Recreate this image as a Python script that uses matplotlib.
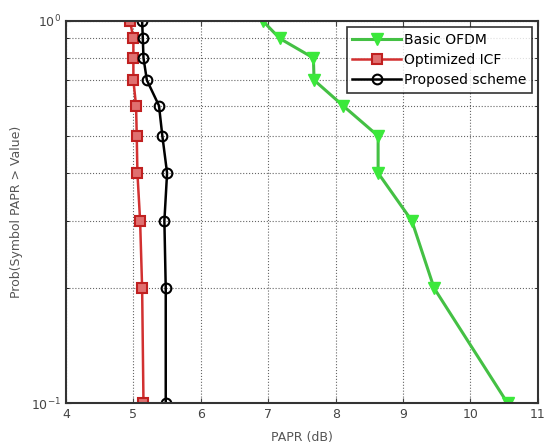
import matplotlib
matplotlib.use("Agg")
import matplotlib.pyplot as plt
from matplotlib.ticker import LogLocator, NullFormatter, FixedLocator

prob = [1.0, 0.9, 0.8, 0.7, 0.6, 0.5, 0.4, 0.3, 0.2, 0.1]
basic_ofdm = [6.92, 7.17, 7.67, 7.68, 8.11, 8.63, 8.63, 9.13, 9.46, 10.55]
optimized_icf = [4.95, 5.0, 5.0, 5.0, 5.04, 5.05, 5.06, 5.1, 5.13, 5.15]
proposed = [5.13, 5.14, 5.15, 5.2, 5.38, 5.43, 5.5, 5.46, 5.48, 5.48]
labels = ["Basic OFDM", "Optimized ICF", "Proposed scheme"]
xticks = [4, 5, 6, 7, 8, 9, 10, 11]

fig = plt.figure(figsize=(5.45, 4.45), dpi=100)
ax = fig.add_axes([0.121, 0.094, 0.866, 0.859])

ax.plot(basic_ofdm, prob, color="#44c044", lw=2.2, marker="v", ms=8,
        mfc="#3be83b", mec="#3be83b", label=labels[0])
ax.plot(optimized_icf, prob, color="#d23030", lw=1.8, marker="s", ms=7,
        mfc="#e07070", mec="#c02020", mew=1.5, label=labels[1])
ax.plot(proposed, prob, color="black", lw=1.8, marker="o", ms=7,
        mfc="none", mec="black", mew=1.5, label=labels[2])

ax.set_yscale("log")
ax.set_ylim(0.1, 1.0)
ax.set_xlim(4, 11)
ax.set_xticks(xticks)
ax.set_xticklabels([str(t) for t in xticks])
ax.yaxis.set_major_locator(FixedLocator([0.1, 1.0]))
ax.set_yticklabels([r"$10^{-1}$", r"$10^{0}$"])
ax.yaxis.set_minor_locator(LogLocator(base=10, subs=range(2, 10)))
ax.yaxis.set_minor_formatter(NullFormatter())

ax.grid(True, which="major", linestyle=":", color="#666666", lw=0.8)
ax.grid(True, which="minor", axis="y", linestyle=":", color="#666666", lw=0.8)
ax.tick_params(direction="in", labelsize=9, colors="#444444", top=True, right=True)
ax.tick_params(which="minor", direction="in", top=True, right=True)
for s in ax.spines.values():
    s.set_linewidth(1.5)
    s.set_color("#333333")

ax.set_xlabel("PAPR (dB)", fontsize=9, color="#555555", labelpad=7)
ax.set_ylabel("Prob(Symbol PAPR > Value)", fontsize=9, color="#555555", labelpad=6)

leg = ax.legend(loc="upper right", fontsize=10, frameon=True, fancybox=False,
                edgecolor="black", borderpad=0.4, labelspacing=0.45,
                handlelength=3.5, handletextpad=0.2, borderaxespad=0.45)
leg.get_frame().set_linewidth(1.2)

fig.savefig("out.png", dpi=100)
